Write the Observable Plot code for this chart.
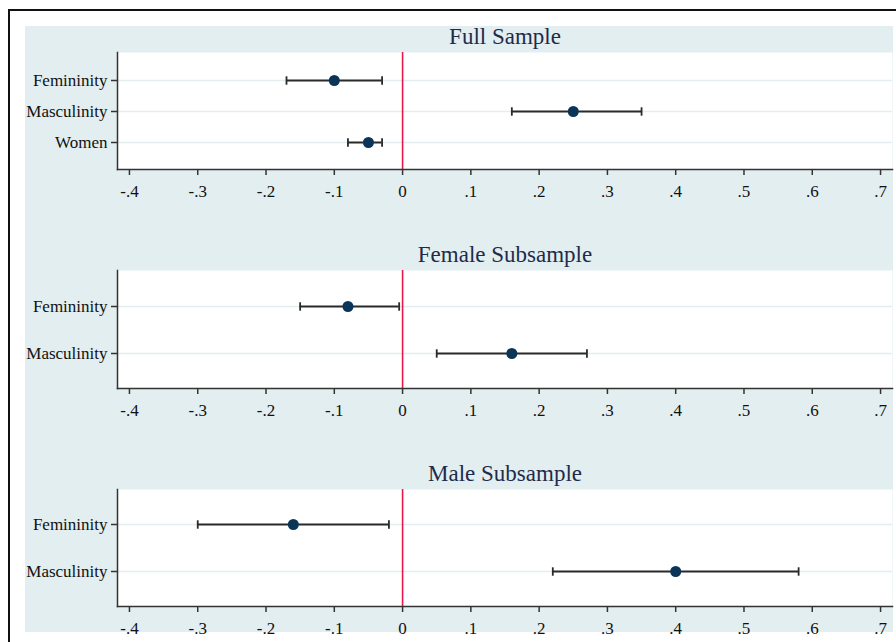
<!DOCTYPE html>
<html><head><meta charset="utf-8">
<script src="https://cdn.jsdelivr.net/npm/d3@7"></script>
<script src="https://cdn.jsdelivr.net/npm/@observablehq/plot@0.6"></script>
<style>
body{margin:0;background:#fff;width:896px;height:642px;overflow:hidden;position:relative;font-family:"Liberation Serif",serif;}
#border{position:absolute;left:8px;top:9px;width:900px;height:700px;border-top:2px solid #111;border-left:2px solid #111;}
#bg{position:absolute;left:25px;top:26px;width:868px;height:606px;background:#e2eef0;overflow:visible;}
#bg svg{position:absolute;left:0;}
</style></head><body>
<div id="border"></div>
<div id="bg"></div>
<script>
const panelTitles = ["Full Sample", "Female Subsample", "Male Subsample"];

const fullLabels = ["Femininity", "Masculinity", "Women"];
const fullCoef = [-0.10, 0.25, -0.05];
const fullLow = [-0.17, 0.16, -0.08];
const fullHigh = [-0.03, 0.35, -0.03];

const femaleLabels = ["Femininity", "Masculinity"];
const femaleCoef = [-0.08, 0.16];
const femaleLow = [-0.15, 0.05];
const femaleHigh = [-0.005, 0.27];

const maleLabels = ["Femininity", "Masculinity"];
const maleCoef = [-0.16, 0.40];
const maleLow = [-0.30, 0.22];
const maleHigh = [-0.02, 0.58];

const xTicks = [-0.4, -0.3, -0.2, -0.1, 0, 0.1, 0.2, 0.3, 0.4, 0.5, 0.6, 0.7];
const xDomain = [-0.4175, 0.7175];

const fmt = d => d === 0 ? "0" : (d < 0 ? "-" : "") + Math.abs(d).toFixed(1).replace(/^0/, "");

const capSymbol = {
  draw(context, size) {
    const h = Math.sqrt(size / Math.PI);
    context.moveTo(0, -h);
    context.lineTo(0, h);
  }
};

const panels = [
  {title: panelTitles[0], labels: fullLabels, coef: fullCoef, lo: fullLow, hi: fullHigh, top: 0, h: 117, pad: 0.86},
  {title: panelTitles[1], labels: femaleLabels, coef: femaleCoef, lo: femaleLow, hi: femaleHigh, top: 218, h: 118, pad: 0.75},
  {title: panelTitles[2], labels: maleLabels, coef: maleCoef, lo: maleLow, hi: maleHigh, top: 437, h: 117, pad: 0.72}
];

const bg = document.getElementById("bg");
const mt = 26, mb = 34;

for (const p of panels) {
  const data = p.labels.map((label, i) => ({label, coef: p.coef[i], lo: p.lo[i], hi: p.hi[i]}));
  const svg = Plot.plot({
    width: 868,
    height: mt + p.h + mb,
    marginLeft: 92,
    marginRight: 1,
    marginTop: mt,
    marginBottom: mb,
    style: {background: "transparent", fontFamily: "'Liberation Serif', serif", fontSize: "17px", color: "#111", overflow: "visible"},
    x: {domain: xDomain},
    y: {type: "point", domain: p.labels, padding: p.pad},
    marks: [
      Plot.frame({fill: "white", stroke: null}),
      Plot.ruleY(p.labels, {stroke: "#e2eef0", strokeWidth: 1.5}),
      Plot.ruleX([0], {stroke: "#e8194b", strokeWidth: 1.6}),
      Plot.ruleY(data, {y: "label", x1: "lo", x2: "hi", stroke: "#2a2a2a", strokeWidth: 1.8}),
      Plot.dot(data, {x: "lo", y: "label", symbol: capSymbol, r: 4.2, stroke: "#2a2a2a", strokeWidth: 1.8}),
      Plot.dot(data, {x: "hi", y: "label", symbol: capSymbol, r: 4.2, stroke: "#2a2a2a", strokeWidth: 1.8}),
      Plot.dot(data, {x: "coef", y: "label", r: 5.5, fill: "#0b3558", stroke: null}),
      Plot.frame({anchor: "bottom", stroke: "#333", strokeWidth: 1.5}),
      Plot.frame({anchor: "left", stroke: "#333", strokeWidth: 1.5}),
      Plot.axisX({ticks: xTicks, tickFormat: fmt, tickSize: 6, tickPadding: 9, stroke: "#333", strokeWidth: 1.5, fill: "#111", label: null}),
      Plot.axisY({tickSize: 6, tickPadding: 4, stroke: "#333", strokeWidth: 1.5, fill: "#111", label: null}),
      Plot.text([p.title], {frameAnchor: "top", dy: -9, lineAnchor: "bottom", fontSize: 23, fill: "#1e2b4b"})
    ]
  });
  svg.style.top = (p.top) + "px";
  bg.appendChild(svg);
}
</script>
</body></html>
